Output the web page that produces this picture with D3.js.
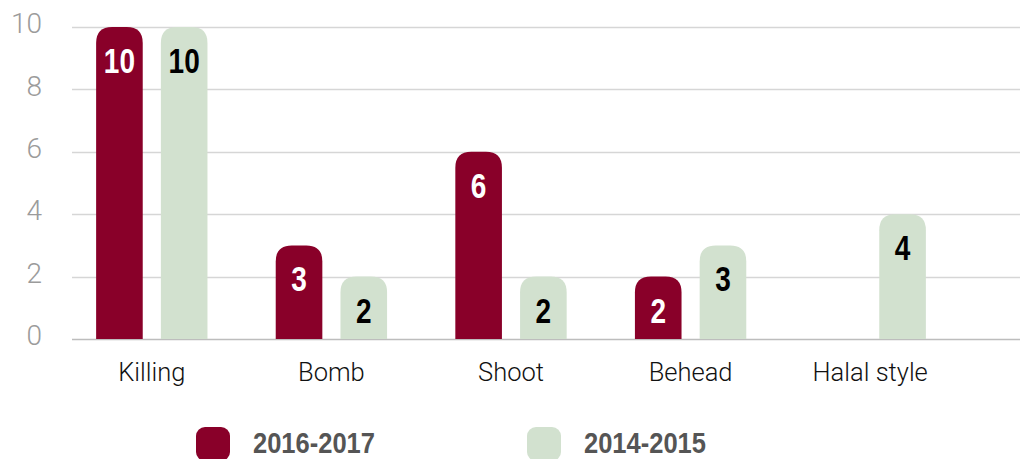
<!DOCTYPE html>
<html>
<head>
<meta charset="utf-8">
<script src="https://cdn.jsdelivr.net/npm/d3@7"></script>
<style>
body { margin: 0; background: #fff; }
svg { display: block; }
.y.axis text { font-family: Roboto, "Liberation Sans", sans-serif; font-weight: 300; font-size: 28px; fill: #9b9b9b; }
.cat { font-family: Roboto, "Liberation Sans", sans-serif; font-weight: 300; font-size: 25.5px; fill: #111; }
.val, .legend text { font-family: "Liberation Sans", Arial, sans-serif; font-weight: bold; }
</style>
</head>
<body>
<script>
var categories = ["Killing", "Bomb", "Shoot", "Behead", "Halal style"];
var series = ["2016-2017", "2014-2015"];
var values2016 = [10, 3, 6, 2, null];
var values2014 = [10, 2, 2, 3, 4];
var yTicks = [0, 2, 4, 6, 8, 10];

var colors = {"2016-2017": "#890029", "2014-2015": "#d2e1cf"};
var labelColors = {"2016-2017": "#fff", "2014-2015": "#000"};

var width = 1020,
    height = 459;

var x0 = d3.scaleBand()
        .domain(categories)
        .range([62, 960])
        .paddingInner(0.38)
        .paddingOuter(0.19);

var x1 = d3.scaleBand()
        .domain(series)
        .range([0, x0.bandwidth()])
        .paddingInner(0.28);

var y = d3.scaleLinear()
        .domain([0, 10])
        .range([339, 27]);

var svg = d3.select("body").append("svg")
        .attr("width", width)
        .attr("height", height);

// gridlines
svg.append("g")
        .attr("class", "grid")
    .selectAll("line")
    .data(yTicks)
    .enter().append("line")
        .attr("x1", 72)
        .attr("x2", width)
        .attr("y1", function(d) { return Math.round(y(d)) + 0.5; })
        .attr("y2", function(d) { return Math.round(y(d)) + 0.5; })
        .attr("stroke", function(d) { return d === 0 ? "#bdbdbd" : "#d6d6d6"; })
        .attr("stroke-width", 1.5);

var yAxis = d3.axisLeft(y)
        .tickValues(yTicks)
        .tickSize(0)
        .tickPadding(0);

svg.append("g")
        .attr("class", "y axis")
        .attr("transform", "translate(42,0)")
        .call(yAxis)
        .call(function(g) { g.select(".domain").remove(); })
    .selectAll("text")
        .attr("dy", "0.2em");

var rows = categories.map(function(c, i) {
    return {cat: c, vals: [
        {s: series[0], v: values2016[i]},
        {s: series[1], v: values2014[i]}
    ]};
});

function topRounded(x, yTop, w, h, r) {
    r = Math.min(r, h, w / 2);
    return "M" + x + "," + (yTop + h) +
        "V" + (yTop + r) +
        "Q" + x + "," + yTop + " " + (x + r) + "," + yTop +
        "H" + (x + w - r) +
        "Q" + (x + w) + "," + yTop + " " + (x + w) + "," + (yTop + r) +
        "V" + (yTop + h) + "Z";
}

var group = svg.append("g")
        .attr("class", "bars")
    .selectAll("g")
    .data(rows)
    .enter().append("g")
        .attr("transform", function(d) { return "translate(" + x0(d.cat) + ",0)"; });

var bar = group.selectAll("g.bar")
    .data(function(d) { return d.vals.filter(function(e) { return e.v != null; }); })
    .enter().append("g")
        .attr("class", "bar");

bar.append("path")
        .attr("fill", function(d) { return colors[d.s]; })
        .attr("d", function(d) {
            return topRounded(x1(d.s), y(d.v), x1.bandwidth(), y(0) - y(d.v), 16);
        });

// condensed bold value labels
bar.append("text")
        .attr("class", "val")
        .attr("transform", function(d) {
            return "translate(" + (x1(d.s) + x1.bandwidth() / 2) + "," + (y(d.v) + 46) + ") scale(0.8,1)";
        })
        .attr("text-anchor", "middle")
        .attr("font-size", 35)
        .attr("fill", function(d) { return labelColors[d.s]; })
        .text(function(d) { return d.v; });

// category labels
svg.append("g")
    .selectAll("text")
    .data(categories)
    .enter().append("text")
        .attr("class", "cat")
        .attr("x", function(d) { return x0(d) + x0.bandwidth() / 2; })
        .attr("y", 381)
        .attr("text-anchor", "middle")
        .text(function(d) { return d; });

// legend
var lx = d3.scalePoint()
        .domain(series)
        .range([196, 527]);

var legend = svg.append("g")
        .attr("class", "legend")
    .selectAll("g")
    .data(series)
    .enter().append("g")
        .attr("transform", function(d) { return "translate(" + lx(d) + ",427)"; });

legend.append("rect")
        .attr("width", 34)
        .attr("height", 34)
        .attr("rx", 9)
        .attr("fill", function(d) { return colors[d]; });

legend.append("text")
        .attr("transform", "translate(57,26) scale(0.88,1)")
        .attr("font-size", 29)
        .attr("fill", "#555")
        .text(function(d) { return d; });
</script>
</body>
</html>
